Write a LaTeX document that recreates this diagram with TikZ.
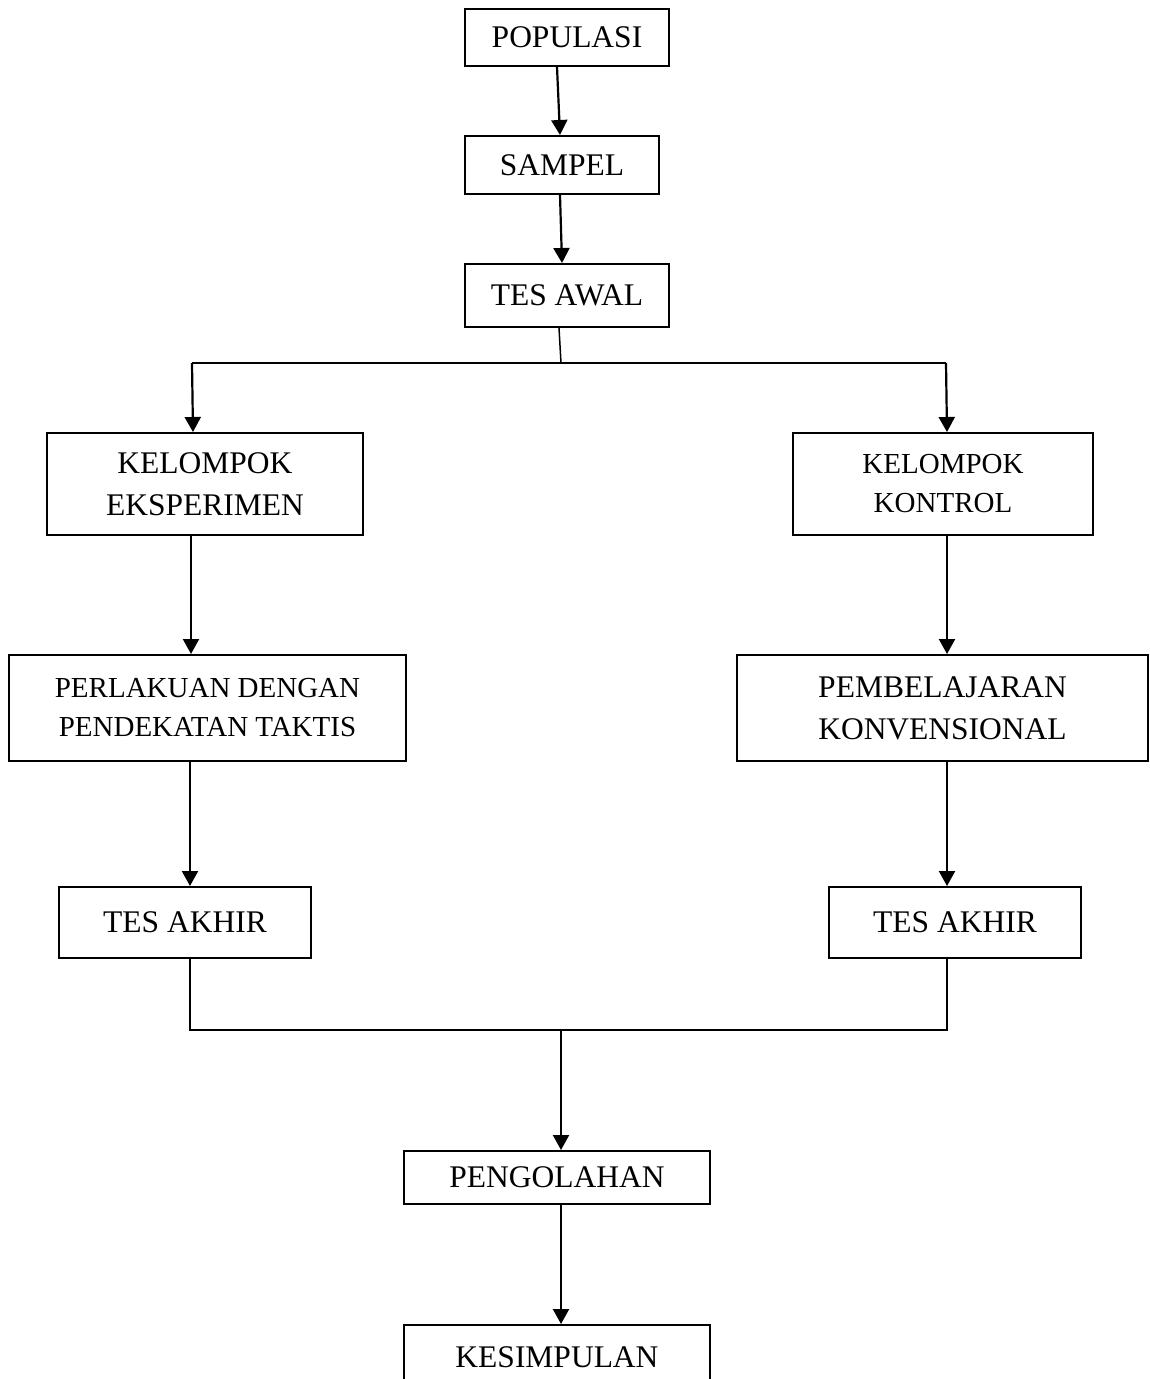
\documentclass[tikz,border=0pt]{standalone}
\usepackage{fontspec}
\setmainfont{Liberation Serif}
\usetikzlibrary{arrows.meta}
\begin{document}
\begin{tikzpicture}[x=1pt,y=-1pt,
  box/.style={draw,line width=2pt,inner sep=0pt,align=center,font=\fontsize{31.5}{42}\selectfont},
  smallbox/.style={box,font=\fontsize{29}{39}\selectfont},
  arr/.style={line width=2.2pt,-{Triangle[length=15pt,width=16pt]}},
  link/.style={line width=1.5pt}]
\useasboundingbox (0,0) rectangle (1149,1379);
\clip (0,0) rectangle (1149,1379);
\node[box,minimum width=204pt,minimum height=57pt] (pop) at (567,37.5) {POPULASI};
\node[box,minimum width=194pt,minimum height=58pt] (samp) at (562,165) {SAMPEL};
\node[box,minimum width=204pt,minimum height=63pt] (awal) at (567,295.5) {TES AWAL};
\node[box,minimum width=316pt,minimum height=102pt] (eksp) at (205,484) {KELOMPOK\\EKSPERIMEN};
\node[smallbox,minimum width=300pt,minimum height=102pt] (kont) at (943,484) {KELOMPOK\\KONTROL};
\node[smallbox,minimum width=397pt,minimum height=106pt] (perl) at (207.5,708) {PERLAKUAN DENGAN\\PENDEKATAN TAKTIS};
\node[box,minimum width=411pt,minimum height=106pt] (pemb) at (942.5,708) {PEMBELAJARAN\\KONVENSIONAL};
\node[box,minimum width=252pt,minimum height=71pt] (akhL) at (185,922.5) {TES AKHIR};
\node[box,minimum width=252pt,minimum height=71pt] (akhR) at (955,922.5) {TES AKHIR};
\node[box,minimum width=306pt,minimum height=53pt] (olah) at (557,1177.5) {PENGOLAHAN};
\node[box,minimum width=306pt,minimum height=65pt] (simp) at (557,1357.5) {KESIMPULAN};
\coordinate (jt) at (561,363);
\coordinate (jl) at (192,363);
\coordinate (jr) at (946,363);
\coordinate (bl) at (190,1030);
\coordinate (br) at (947,1030);
\coordinate (bm) at (561,1030);
\draw[arr] ([xshift=-10pt]pop.south) -- ([xshift=-2pt]samp.north);
\draw[arr] ([xshift=-2pt]samp.south) -- ([xshift=-5pt]awal.north);
\draw[link] ([xshift=-8pt]awal.south) -- (jt);
\draw[link] (jl) -- (jr);
\draw[arr] (jl) -- ([xshift=-12pt]eksp.north);
\draw[arr] (jr) -- ([xshift=4pt]kont.north);
\draw[arr] ([xshift=-14pt]eksp.south) -- ([xshift=-16.5pt]perl.north);
\draw[arr] ([xshift=4pt]kont.south) -- ([xshift=4.5pt]pemb.north);
\draw[arr] ([xshift=-17.5pt]perl.south) -- ([xshift=5pt]akhL.north);
\draw[arr] ([xshift=4.5pt]pemb.south) -- ([xshift=-8pt]akhR.north);
\draw[link] ([xshift=5pt]akhL.south) -- (bl) -- (br) -- ([xshift=-8pt]akhR.south);
\draw[arr] (bm) -- ([xshift=4pt]olah.north);
\draw[arr] ([xshift=4pt]olah.south) -- ([xshift=4pt]simp.north);
\end{tikzpicture}
\end{document}
